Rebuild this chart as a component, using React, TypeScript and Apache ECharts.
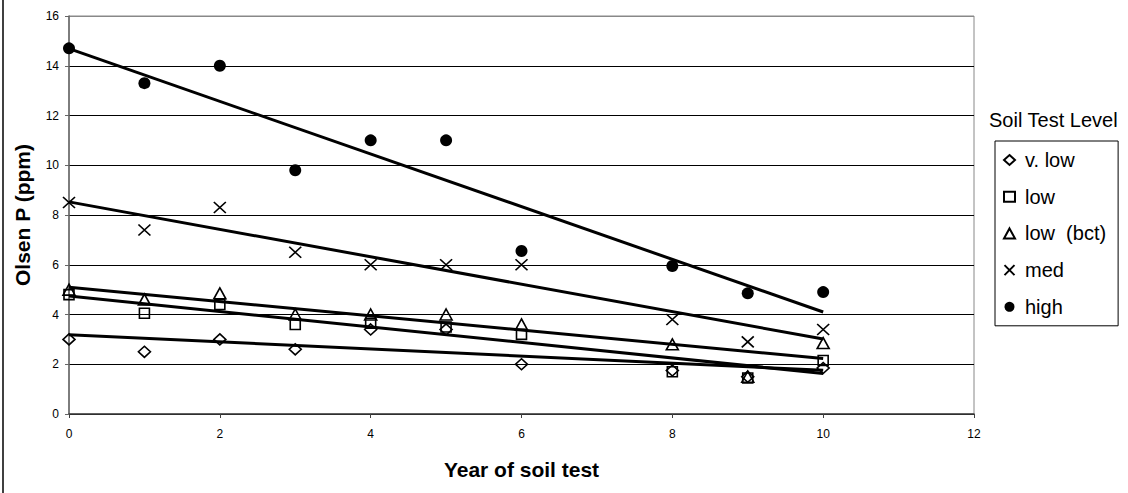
import React, { useEffect, useRef } from "react";
import * as echarts from "echarts";

const years = [0, 1, 2, 3, 4, 5, 6, 8, 9, 10];
const vLow = [3.0, 2.5, 3.0, 2.6, 3.4, 3.4, 2.0, 1.75, 1.5, 1.85];
const low = [4.8, 4.05, 4.4, 3.6, 3.65, 3.5, 3.2, 1.7, 1.45, 2.15];
const lowBct = [5.0, 4.6, 4.85, 4.0, 4.0, 4.0, 3.6, 2.8, 1.5, 2.85];
const med = [8.5, 7.4, 8.3, 6.5, 6.0, 6.0, 6.0, 3.8, 2.9, 3.4];
const high = [14.7, 13.3, 14.0, 9.8, 11.0, 11.0, 6.55, 5.95, 4.85, 4.9];

const seriesNames = ["v. low", "low", "low  (bct)", "med", "high"];
const yTicks = { min: 0, max: 16, interval: 2 };
const xTicks = { min: 0, max: 12, interval: 2 };

const FONT = "Liberation Sans, Arial, sans-serif";
const X_PATH = "path://M0,0L10,10M10,0L0,10";

function fit(xs: number[], ys: number[]) {
  const n = xs.length;
  const mx = xs.reduce((a, b) => a + b, 0) / n;
  const my = ys.reduce((a, b) => a + b, 0) / n;
  let sxy = 0;
  let sxx = 0;
  for (let i = 0; i < n; i++) {
    sxy += (xs[i] - mx) * (ys[i] - my);
    sxx += (xs[i] - mx) * (xs[i] - mx);
  }
  const b = sxy / sxx;
  const a = my - b * mx;
  const x0 = Math.min(...xs);
  const x1 = Math.max(...xs);
  return [
    [x0, a + b * x0],
    [x1, a + b * x1],
  ];
}

export default function App() {
  const ref = useRef<HTMLDivElement>(null);
  useEffect(() => {
    if (!ref.current) return;
    const chart = echarts.init(ref.current, undefined, { renderer: "svg" });
    const all = [vLow, low, lowBct, med, high];
    const symbols: any[] = ["diamond", "rect", "triangle", X_PATH, "circle"];
    const sizes: any[] = [[12, 11], [10, 10], [12, 11], [12, 11], [12, 12]];
    const scatter = all.map((vals, i) => ({
      name: seriesNames[i],
      type: "scatter",
      data: years.map((x, j) => [x, vals[j]]),
      symbol: symbols[i],
      symbolSize: sizes[i],
      itemStyle:
        i === 4
          ? { color: "#000", borderColor: "#000", borderWidth: 0, opacity: 1 }
          : { color: "rgba(0,0,0,0)", borderColor: "#000", borderWidth: 1.6, opacity: 1 },
      z: 2,
    }));
    const trends = all.map((vals, i) => ({
      name: "trend " + seriesNames[i],
      type: "line",
      data: fit(years, vals),
      symbol: "none",
      lineStyle: { color: "#000", width: 3 },
      z: 3,
      silent: true,
    }));
    const splitColors = ["#000", "#000", "#000", "#000", "#000", "#000", "#000", "#000", "#888"];
    chart.setOption({
      animation: false,
      backgroundColor: "#fff",
      textStyle: { fontFamily: FONT },
      grid: {
        left: 69,
        top: 16,
        right: 154,
        bottom: 79,
        show: true,
        borderColor: "#888",
        borderWidth: 1,
      },
      xAxis: {
        type: "value",
        min: xTicks.min,
        max: xTicks.max,
        interval: xTicks.interval,
        name: "Year of soil test",
        nameLocation: "middle",
        nameGap: 45,
        nameTextStyle: { fontFamily: FONT, fontSize: 21, fontWeight: "bold", color: "#000" },
        axisLine: { show: true, lineStyle: { color: "#404040", width: 1.5 } },
        axisTick: { show: true, length: 4, lineStyle: { color: "#404040" } },
        axisLabel: { fontFamily: FONT, fontSize: 12, color: "#000", margin: 14 },
        splitLine: { show: false },
      },
      yAxis: {
        type: "value",
        min: yTicks.min,
        max: yTicks.max,
        interval: yTicks.interval,
        name: "Olsen P (ppm)",
        nameLocation: "middle",
        nameRotate: 90,
        nameGap: 36,
        nameTextStyle: { fontFamily: FONT, fontSize: 21, fontWeight: "bold", color: "#000" },
        axisLine: { show: true, lineStyle: { color: "#666", width: 1.5 } },
        axisTick: { show: true, length: 4, lineStyle: { color: "#666" } },
        axisLabel: { fontFamily: FONT, fontSize: 12, color: "#000", margin: 10 },
        splitLine: { show: true, lineStyle: { color: splitColors, width: 1 } },
      },
      legend: {
        data: seriesNames,
        orient: "vertical",
        left: 995,
        top: 141,
        itemWidth: 11,
        itemHeight: 10,
        itemGap: 16.7,
        padding: [9, 12, 9, 8],
        borderColor: "#000",
        borderWidth: 1,
        selectedMode: false,
        textStyle: { fontFamily: FONT, fontSize: 20, color: "#000", padding: [0, 0, 0, 5] },
      },
      graphic: [
        {
          type: "text",
          left: 989,
          top: 110,
          style: { text: "Soil Test Level", fontFamily: FONT, fontSize: 20, fill: "#000" },
        },
        {
          type: "line",
          shape: { x1: 3, y1: 0, x2: 3, y2: 493 },
          style: { stroke: "#404040", lineWidth: 2 },
        },
      ],
      series: [...scatter, ...trends],
    });
    return () => chart.dispose();
  }, []);
  return (
    <div
      ref={ref}
      style={{ position: "fixed", left: 0, top: 0, width: 1128, height: 493, background: "#fff" }}
    />
  );
}
